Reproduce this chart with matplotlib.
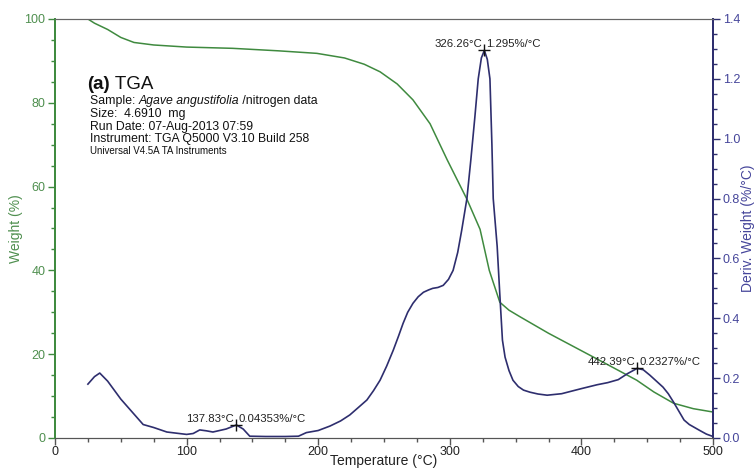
import matplotlib
matplotlib.use("Agg")
import matplotlib.pyplot as plt
from matplotlib.ticker import MultipleLocator

plt.rcParams['font.family'] = ['Liberation Sans', 'DejaVu Sans']

# TGA weight curve (%)
tga_temp = [25, 30, 40, 50, 60, 75, 100, 135, 170, 199, 220, 235, 247, 260, 272, 285,
            298, 313, 323, 330, 338, 345, 353, 375, 399, 420, 442, 455, 470, 485, 500]
tga_weight = [100, 99, 97.5, 95.6, 94.4, 93.8, 93.3, 93.0, 92.4, 91.8, 90.7, 89.2, 87.4,
              84.5, 80.7, 75, 66.4, 57, 49.8, 40, 32.4, 30.5, 29, 25, 21, 17.5, 13.8,
              11, 8.3, 7, 6.2]

# Derivative weight curve (%/°C)
dtg_temp = [25, 30, 34, 40, 50, 60, 67, 75, 85, 100, 105, 110, 115, 120, 130, 137.83, 143,
            148, 160, 175, 185, 191, 200, 209, 217, 224, 230, 237, 242, 247, 252, 257, 261,
            264.5, 268, 272, 276, 280, 284, 287, 291, 295, 299, 302.5, 306, 309, 313, 316,
            319, 321.6, 324, 326.26, 328.5, 330.5, 332, 333, 334.5, 336, 338, 340, 342, 345,
            348, 352, 356, 361, 367, 374, 385, 400, 412, 420, 428, 435, 442.39, 447, 452,
            457, 462, 466, 470, 474, 478, 482, 486, 490, 495, 500]
dtg_deriv = [0.18, 0.205, 0.217, 0.19, 0.13, 0.08, 0.045, 0.035, 0.02, 0.012, 0.015, 0.027,
             0.024, 0.02, 0.03, 0.0435, 0.03, 0.006, 0.005, 0.005, 0.006, 0.018, 0.025,
             0.04, 0.057, 0.077, 0.1, 0.127, 0.158, 0.193, 0.24, 0.293, 0.34, 0.383, 0.42,
             0.45, 0.472, 0.487, 0.495, 0.5, 0.503, 0.51, 0.53, 0.56, 0.62, 0.693, 0.8,
             0.93, 1.07, 1.2, 1.27, 1.295, 1.265, 1.2, 0.98, 0.8, 0.72, 0.64, 0.48, 0.327,
             0.27, 0.225, 0.193, 0.172, 0.16, 0.153, 0.147, 0.143, 0.148, 0.165, 0.178,
             0.185, 0.195, 0.215, 0.2327, 0.228, 0.21, 0.19, 0.17, 0.148, 0.12, 0.09, 0.06,
             0.045, 0.035, 0.025, 0.013, 0.005]

peak_temps = [137.83, 326.26, 442.39]
peak_vals = [0.04353, 1.295, 0.2327]
peak_left = ["137.83°C", "326.26°C", "442.39°C"]
peak_right = ["0.04353%/°C", "1.295%/°C", "0.2327%/°C"]

green = '#3f8a3f'
navy = '#2e2e6e'
gtxt = '#4f8f4f'
ntxt = '#45459a'

fig = plt.figure(figsize=(7.56, 4.68), dpi=100)
ax = fig.add_axes([55/756, 1-438/468, 658/756, 419/468])
ax2 = ax.twinx()

ax.plot(tga_temp, tga_weight, color=green, lw=1.1)
ax2.plot(dtg_temp, dtg_deriv, color=navy, lw=1.2)

ax.set_xlim(0, 500)
ax.set_ylim(0, 100)
ax2.set_ylim(0, 1.4)

ax.xaxis.set_major_locator(MultipleLocator(100))
ax.xaxis.set_minor_locator(MultipleLocator(25))
ax.yaxis.set_major_locator(MultipleLocator(20))
ax.yaxis.set_minor_locator(MultipleLocator(5))
ax2.yaxis.set_major_locator(MultipleLocator(0.2))
ax2.yaxis.set_minor_locator(MultipleLocator(0.05))
ax2.yaxis.set_major_formatter(matplotlib.ticker.FormatStrFormatter('%.1f'))

for a in (ax, ax2):
    a.tick_params(which='major', length=5, width=1, labelsize=9, pad=2)
    a.tick_params(which='minor', length=3, width=1)
ax.tick_params(axis='y', which='both', colors=green, labelcolor=gtxt)
ax2.tick_params(axis='y', which='both', colors=navy, labelcolor=ntxt)
ax.tick_params(axis='x', which='both', colors='#555555', labelcolor='#222222', pad=1)

for a in (ax, ax2):
    a.spines['top'].set_color('#666666')
    a.spines['bottom'].set_color('#555555')
    a.spines['left'].set_color(green)
    a.spines['right'].set_color(navy)
    a.spines['left'].set_linewidth(1.3)
    a.spines['right'].set_linewidth(1.3)

ax.set_xlabel('Temperature (°C)', fontsize=10, color='#222222', labelpad=-3)
ax.set_ylabel('Weight (%)', fontsize=10, color=gtxt, labelpad=1)
ax2.set_ylabel('Deriv. Weight (%/°C)', fontsize=10, color=ntxt, labelpad=1)

# peak markers and labels
for t, v, lt, rt in zip(peak_temps, peak_vals, peak_left, peak_right):
    ax2.plot([t], [v], marker='+', ms=9, mew=1, color='#111111')
    ax2.annotate(lt, (t, v), xytext=(-1.5, 1), textcoords='offset points',
                 ha='right', va='bottom', fontsize=8.2, color='#222222')
    ax2.annotate(rt, (t, v), xytext=(1.5, 1), textcoords='offset points',
                 ha='left', va='bottom', fontsize=8.2, color='#222222')

# info block
t1 = ax.annotate('(a)', (87/756, 1-93/468), xycoords='figure fraction', fontsize=13.5,
                 fontweight='bold', color='#111111', va='bottom')
ax.annotate(' TGA', (1, 0), xycoords=t1, fontsize=13.5, color='#111111', va='bottom')

fs = 8.8
s1 = ax.annotate('Sample: ', (90/756, 1-107/468), xycoords='figure fraction', fontsize=fs,
                 color='#111111', va='bottom')
s2 = ax.annotate('Agave angustifolia', (1, 0), xycoords=s1, fontsize=fs, style='italic',
                 color='#111111', va='bottom')
ax.annotate(' /nitrogen data', (1, 0), xycoords=s2, fontsize=fs, color='#111111', va='bottom')
fig.text(90/756, 1-117.5/468, 'Size:  4.6910  mg', fontsize=fs, color='#111111')
fig.text(90/756, 1-130/468, 'Run Date: 07-Aug-2013 07:59', fontsize=fs, color='#111111')
fig.text(90/756, 1-142/468, 'Instrument: TGA Q5000 V3.10 Build 258', fontsize=fs, color='#111111')
fig.text(90/756, 1-154/468, 'Universal V4.5A TA Instruments', fontsize=7, color='#111111')

fig.savefig('out.png', dpi=100)
